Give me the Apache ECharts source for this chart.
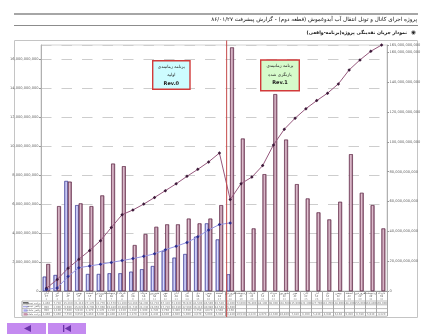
<!DOCTYPE html>
<html><head><meta charset="utf-8">
<script src="https://cdn.jsdelivr.net/npm/echarts@6/dist/echarts.min.js"></script>
<style>html,body{margin:0;padding:0;background:#fff}#c{width:448px;height:336px}</style>
</head><body><div id="c"></div><script>
// Months of the project schedule (Persian calendar)
const months = ['آبان','آذر','دی','بهمن','اسفند','فروردین','اردیبهشت','خرداد','تیر','مرداد','شهریور','مهر','آبان','آذر','دی','بهمن','اسفند','فروردین','اردیبهشت','خرداد','تیر','مرداد','شهریور','مهر','آبان','آذر','دی','بهمن','اسفند','فروردین','اردیبهشت','خرداد'];
const years = ['۸۴','۸۴','۸۴','۸۴','۸۴','۸۵','۸۵','۸۵','۸۵','۸۵','۸۵','۸۵','۸۵','۸۵','۸۵','۸۵','۸۵','۸۶','۸۶','۸۶','۸۶','۸۶','۸۶','۸۶','۸۶','۸۶','۸۶','۸۶','۸۶','۸۷','۸۷','۸۷'];
const categories = months.map((m, i) => m + ' ' + years[i]);

// Values in billions of rials
const plannedMonthly = [1.86, 5.86, 7.55, 6.05, 5.86, 6.60, 8.80, 8.62, 3.17, 3.93, 4.43, 4.60, 4.60, 5.00, 4.67, 5.00, 5.93, 16.83, 10.53, 4.32, 8.07, 13.60, 10.46, 7.38, 6.39, 5.43, 4.94, 6.16, 9.45, 6.78, 5.93, 4.32];
const actualMonthly = [0.99, 1.10, 7.60, 5.93, 1.17, 1.17, 1.22, 1.22, 1.33, 1.50, 1.72, 2.76, 2.30, 2.55, 3.75, 4.67, 3.56, 1.15, null, null, null, null, null, null, null, null, null, null, null, null, null, null];
const plannedCumulative = [1.86, 7.72, 15.26, 21.31, 27.17, 33.77, 42.57, 51.19, 54.36, 58.29, 62.72, 67.32, 71.92, 76.92, 81.59, 86.59, 92.52, 61.30, 72.00, 76.40, 84.10, 98.00, 108.50, 115.90, 122.30, 127.70, 132.70, 138.90, 148.30, 155.00, 160.80, 165.00];
const actualCumulative = [0.99, 2.09, 9.69, 15.62, 16.79, 17.96, 19.18, 20.40, 21.73, 23.23, 24.95, 27.71, 30.01, 32.56, 36.31, 40.98, 44.54, 45.69, null, null, null, null, null, null, null, null, null, null, null, null, null, null];

const leftTicks = {min: 0, max: 17, interval: 2};
const rightTicks = {min: 0, max: 165, interval: 20};

const FONT = 'DejaVu Sans';
const rtl = s => '\u200F' + s + '\u200F';
const fmtAxis = v => Math.round(v * 1e9).toLocaleString('en-US');
const fmtCell = v => (v == null ? ' ' : Math.round(v * 1000).toLocaleString('en-US'));

const chart = echarts.init(document.getElementById('c'), null, {renderer: 'canvas'});

const barGrad = (a, b, c) => new echarts.graphic.LinearGradient(0, 0, 1, 0, [
  {offset: 0, color: a}, {offset: 0.45, color: b}, {offset: 1, color: c}
]);

chart.setOption({
  animation: false,
  textStyle: {fontFamily: FONT},
  grid: {left: 41, right: 61, top: 45, bottom: 45, show: true, borderColor: '#d4d4d4', borderWidth: 1},
  xAxis: {
    type: 'category',
    data: categories,
    axisLine: {lineStyle: {color: '#9a9a9a', width: 1}},
    axisTick: {show: true, length: 25.2, lineStyle: {color: '#a8a8a8', width: 1}},
    axisLabel: {
      interval: 0, margin: 1.2, fontFamily: FONT,
      formatter: (v, i) => [
        '{m|' + months[i] + '}', '{m|' + years[i] + '}', '{n|' + (i + 1) + '}',
        '{v|' + fmtCell(plannedCumulative[i]) + '}',
        '{v|' + fmtCell(actualCumulative[i]) + '}',
        '{v|' + fmtCell(actualMonthly[i]) + '}',
        '{v|' + fmtCell(plannedMonthly[i]) + '}'
      ].join('\n'),
      rich: {
        m: {fontSize: 3, lineHeight: 3, color: '#555', fontFamily: FONT},
        n: {fontSize: 2.6, lineHeight: 3, color: '#999', fontFamily: FONT},
        v: {fontSize: 2.6, lineHeight: 3.8, color: '#777', fontFamily: FONT}
      }
    }
  },
  yAxis: [{
    type: 'value', position: 'left', ...leftTicks,
    axisLine: {show: true, lineStyle: {color: '#b0b0b0'}},
    axisTick: {show: true, length: 2, lineStyle: {color: '#999'}},
    axisLabel: {fontSize: 3.6, color: '#666', margin: 2.5, showMaxLabel: false, formatter: fmtAxis, fontFamily: FONT},
    splitLine: {show: true, lineStyle: {color: '#cdcdcd', width: 1, type: [10.5, 10]}}
  }, {
    type: 'value', position: 'right', ...rightTicks,
    axisLine: {show: true, lineStyle: {color: '#b0b0b0'}},
    axisTick: {show: true, length: 2, lineStyle: {color: '#999'}},
    axisLabel: {fontSize: 3.6, color: '#666', margin: 2.5, formatter: fmtAxis, fontFamily: FONT},
    splitLine: {show: false}
  }],
  series: [{
    name: 'actualMonthly', type: 'bar', yAxisIndex: 0, data: actualMonthly,
    barWidth: 3.7, barGap: '-4%',
    itemStyle: {color: barGrad('#8a8ad6', '#dedeff', '#7878c4'), borderColor: '#4a4a9c', borderWidth: 0.5}
  }, {
    name: 'plannedMonthly', type: 'bar', yAxisIndex: 0, data: plannedMonthly,
    barWidth: 3.7,
    itemStyle: {color: barGrad('#9a6680', '#e2c4d3', '#8c5672'), borderColor: '#6a3652', borderWidth: 0.5}
  }, {
    name: 'plannedCumulative', type: 'line', yAxisIndex: 1, data: plannedCumulative,
    symbol: 'diamond', symbolSize: 3.5, z: 5,
    lineStyle: {color: '#95577c', width: 1},
    itemStyle: {color: '#3e1a3a'}
  }, {
    name: 'actualCumulative', type: 'line', yAxisIndex: 1, data: actualCumulative,
    symbol: 'diamond', symbolSize: 3.5, z: 5,
    lineStyle: {color: '#9494e2', width: 1},
    itemStyle: {color: '#2c2c8c'}
  }]
});

// Decorations: header, frame, schedule notes, table rules, navigation
const cx17 = chart.convertToPixel({xAxisIndex: 0}, 17);
const band = chart.convertToPixel({xAxisIndex: 0}, 18) - cx17;
const revX = cx17 - band * 0.33;
const xRight = chart.convertToPixel({xAxisIndex: 0}, 31) + band / 2;
const yBase = chart.convertToPixel({yAxisIndex: 0}, 0);
const rowY = [10, 13.8, 17.6, 21.4, 25.2].map(d => yBase + d);

const txt = (x, y, s, font, color, align) => ({
  type: 'text', x, y, silent: true,
  style: {text: s, font, fill: color || '#000', align: align || 'center', verticalAlign: 'middle'}
});

const note = (x, y, w, h, fill, lines) => ({
  type: 'group', x, y, children: [
    {type: 'rect', shape: {x: 0, y: 0, width: w, height: h}, style: {fill, stroke: '#d23a3a', lineWidth: 1.4}},
    txt(w / 2, 6.2, rtl(lines[0]), '4.3px "' + FONT + '"', '#222'),
    txt(w / 2, 14.6, rtl(lines[1]), '4.3px "' + FONT + '"', '#222'),
    txt(w / 2, 23, lines[2], 'bold 5px "' + FONT + '"', '#222')
  ]
});

const legendRows = [
  {label: 'برنامه تجمعی', key: {type: 'line', color: '#2a2a2a'}},
  {label: 'واقعی تجمعی', key: {type: 'line', color: '#a4a4e8'}},
  {label: 'واقعی ماهانه', key: {type: 'box', color: '#a8a8ee'}},
  {label: 'برنامه ماهانه', key: {type: 'box', color: '#c890aa'}}
];

const graphics = [
  {type: 'rect', shape: {x: 14, y: 13, width: 404, height: 2}, style: {fill: '#a6a6a6'}},
  txt(417, 19.6, rtl('پروژه اجرای کانال و تونل انتقال آب آیدوغموش (قطعه دوم) - گزارش پیشرفت ۸۶/۰۱/۲۷'), '5.6px "' + FONT + '"', '#111', 'right'),
  {type: 'rect', shape: {x: 14, y: 25, width: 404, height: 1}, style: {fill: '#8c8c8c'}},
  txt(413.5, 32.8, '◉', '5.6px "' + FONT + '"', '#222'),
  txt(407, 33, rtl('نمودار جریان نقدینگی پروژه(برنامه-واقعی)'), 'bold 4.7px "' + FONT + '"', '#111', 'right'),
  {type: 'rect', shape: {x: 14.5, y: 40.5, width: 403, height: 277}, style: {fill: 'none', stroke: '#c4c4c4', lineWidth: 1}},
  note(152.7, 60.7, 37.3, 28.6, '#cdfcff', ['برنامه زمانبندی', 'اولیه', 'Rev.0']),
  note(260.7, 60, 38.6, 30.7, '#d6fbcb', ['برنامه زمانبندی', 'بازنگری شده', 'Rev.1']),
  {type: 'line', shape: {x1: revX, y1: 40.5, x2: revX, y2: 317}, style: {stroke: '#c44a4a', lineWidth: 1}, z: 10},
  {type: 'line', shape: {x1: 22, y1: rowY[0], x2: 22, y2: rowY[4]}, style: {stroke: '#a8a8a8', lineWidth: 1}},
  // navigation buttons
  {type: 'rect', shape: {x: 7, y: 323, width: 39, height: 11}, style: {fill: '#c48af0'}},
  {type: 'polygon', shape: {points: [[24, 328.5], [31, 325], [31, 332]]}, style: {fill: '#6a34a8'}},
  {type: 'rect', shape: {x: 48, y: 323, width: 38, height: 11}, style: {fill: '#c48af0'}},
  {type: 'rect', shape: {x: 63, y: 325, width: 1.3, height: 7}, style: {fill: '#6a34a8'}},
  {type: 'polygon', shape: {points: [[64.8, 328.5], [71, 325], [71, 332]]}, style: {fill: '#6a34a8'}}
];
rowY.forEach(y => graphics.push({type: 'line', shape: {x1: 22, y1: y, x2: xRight, y2: y}, style: {stroke: '#a8a8a8', lineWidth: 0.8}}));
legendRows.forEach((r, i) => {
  const yc = (rowY[i] + rowY[i + 1]) / 2;
  if (r.key.type === 'line') {
    graphics.push({type: 'line', shape: {x1: 23, y1: yc, x2: 28.5, y2: yc}, style: {stroke: r.key.color, lineWidth: 1.2}});
  } else {
    graphics.push({type: 'rect', shape: {x: 23.5, y: yc - 1.2, width: 4, height: 2.4}, style: {fill: r.key.color}});
  }
  graphics.push(txt(40.5, yc, rtl(r.label), '2.6px "' + FONT + '"', '#777', 'right'));
});

chart.setOption({graphic: graphics});
</script></body></html>
